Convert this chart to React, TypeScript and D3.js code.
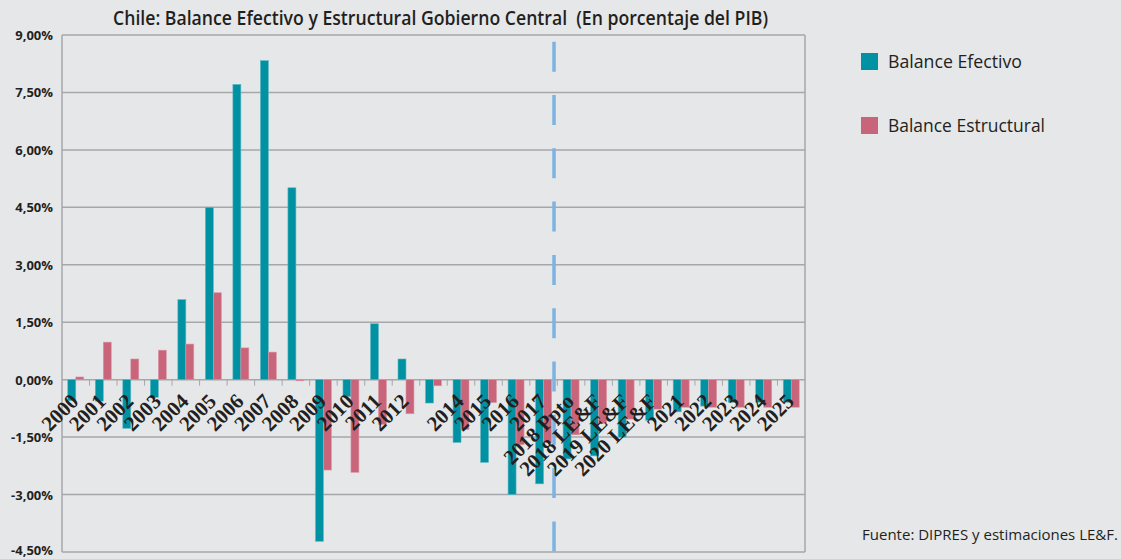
import React, { useRef, useEffect } from 'react';
import * as d3 from 'd3';

// Categories (2013 has no printed label in the original chart)
const categories = [
  '2000', '2001', '2002', '2003', '2004', '2005', '2006', '2007', '2008', '2009',
  '2010', '2011', '2012', '2013', '2014', '2015', '2016', '2017', '2018 Ppto',
  '2018 LE&F', '2019 LE&F', '2020 LE&F', '2021', '2022', '2023', '2024', '2025',
];
const tickLabels = [
  '2000', '2001', '2002', '2003', '2004', '2005', '2006', '2007', '2008', '2009',
  '2010', '2011', '2012', '', '2014', '2015', '2016', '2017', '2018 Ppto',
  '2018 LE&F', '2019 LE&F', '2020 LE&F', '2021', '2022', '2023', '2024', '2025',
];

// % of GDP
const balanceEfectivo = [
  -0.55, -0.56, -1.27, -0.46, 2.09, 4.50, 7.71, 8.33, 5.01, -4.22,
  -0.44, 1.46, 0.54, -0.61, -1.64, -2.16, -3.00, -2.72, -2.07,
  -1.99, -1.50, -1.06, -0.84, -0.69, -0.59, -0.59, -0.59,
];
const balanceEstructural = [
  0.07, 0.98, 0.54, 0.77, 0.93, 2.27, 0.83, 0.72, -0.03, -2.36,
  -2.42, -1.17, -0.89, -0.16, -1.30, -0.60, -1.70, -1.65, -1.44,
  -1.14, -1.03, -0.77, -0.72, -0.72, -0.72, -0.72, -0.72,
];

const yTicks = [9, 7.5, 6, 4.5, 3, 1.5, 0, -1.5, -3, -4.5];
const seriesNames = ['Balance Efectivo', 'Balance Estructural'];
const seriesColors = ['#0091a2', '#c8657a'];

const TITLE = 'Chile: Balance Efectivo y Estructural Gobierno Central  (En porcentaje del PIB)';
const SOURCE = 'Fuente: DIPRES y estimaciones LE&F.';

const WIDTH = 1121;
const HEIGHT = 559;
const SANS = '"Open Sans", "Noto Sans", sans-serif';

const fmt = (v: number) => d3.format('.2f')(v).replace('.', ',').replace('−', '-') + '%';

const BalanceChart: React.FC = () => {
  const svgRef = useRef<SVGSVGElement>(null);

  useEffect(() => {
    if (!svgRef.current) return;
    const svg = d3.select(svgRef.current);
    svg.selectAll('*').remove();

    const left = 62, right = 805, top = 35, bottom = 552;

    const x = d3.scaleBand<string>()
      .domain(categories)
      .range([left, right])
      .paddingInner(0.42)
      .paddingOuter(0.21);
    const xs = d3.scaleBand<number>()
      .domain([0, 1])
      .range([0, x.bandwidth()]);
    const y = d3.scaleLinear().domain([-4.5, 9]).range([bottom, top]);
    const step = x.step();

    svg.append('rect')
      .attr('width', WIDTH)
      .attr('height', HEIGHT)
      .attr('fill', '#e6e7e9');

    // gridlines
    svg.append('g')
      .selectAll('line')
      .data(yTicks)
      .join('line')
      .attr('x1', left)
      .attr('x2', right)
      .attr('y1', (d) => y(d))
      .attr('y2', (d) => y(d))
      .attr('stroke', '#a5a7aa')
      .attr('stroke-width', 1.5);

    // frame (left + right)
    svg.append('line')
      .attr('x1', left).attr('x2', left)
      .attr('y1', top).attr('y2', bottom)
      .attr('stroke', '#a5a7aa').attr('stroke-width', 1.5);
    svg.append('line')
      .attr('x1', right).attr('x2', right)
      .attr('y1', top).attr('y2', bottom)
      .attr('stroke', '#a5a7aa').attr('stroke-width', 1.5);

    // y labels
    svg.append('g')
      .selectAll('text')
      .data(yTicks)
      .join('text')
      .attr('x', 53)
      .attr('y', (d) => Math.min(y(d) + 5, HEIGHT - 4))
      .attr('text-anchor', 'end')
      .attr('font-family', SANS)
      .attr('font-weight', 700)
      .attr('font-size', 13)
      .attr('fill', '#231f20')
      .text((d) => fmt(d));

    // bars
    const series = [balanceEfectivo, balanceEstructural];
    series.forEach((vals, si) => {
      svg.append('g')
        .selectAll('rect')
        .data(vals)
        .join('rect')
        .attr('x', (_, i) => (x(categories[i]) as number) + (xs(si) as number))
        .attr('width', xs.bandwidth())
        .attr('y', (d) => y(Math.max(0, d)))
        .attr('height', (d) => Math.abs(y(d) - y(0)))
        .attr('fill', seriesColors[si])
        .attr('stroke', si === 0 ? '#5fb8c3' : '#dc98a6')
        .attr('stroke-width', 0.6);
    });

    // zero-axis tick marks at category boundaries
    svg.append('g')
      .selectAll('line')
      .data(d3.range(1, categories.length))
      .join('line')
      .attr('x1', (i) => left + i * step)
      .attr('x2', (i) => left + i * step)
      .attr('y1', y(0))
      .attr('y2', y(0) + 6)
      .attr('stroke', '#a5a7aa')
      .attr('stroke-width', 1);

    // dashed projection separator
    const sepX = (x('2018 Ppto') as number) - step * 0.33;
    svg.append('line')
      .attr('x1', sepX).attr('x2', sepX)
      .attr('y1', 41.7).attr('y2', bottom)
      .attr('stroke', '#7db2e1')
      .attr('stroke-width', 3.5)
      .attr('stroke-dasharray', '30 23.3');

    // rotated category labels
    svg.append('g')
      .selectAll('text')
      .data(tickLabels)
      .join('text')
      .attr('transform', (_, i) => {
        const cx = (x(categories[i]) as number) + x.bandwidth() / 2 + 4;
        return `translate(${cx},${y(0) + 23}) rotate(-45)`;
      })
      .attr('text-anchor', 'end')
      .attr('font-family', '"Liberation Serif", "Times New Roman", serif')
      .attr('font-weight', 700)
      .attr('font-size', 21)
      .attr('fill', '#231f20')
      .text((d) => d);

    // title
    svg.append('text')
      .attr('x', 113)
      .attr('y', 25)
      .attr('textLength', 655)
      .attr('lengthAdjust', 'spacingAndGlyphs')
      .attr('font-family', SANS)
      .attr('font-weight', 600)
      .attr('font-size', 19)
      .attr('fill', '#231f20')
      .style('white-space', 'pre')
      .text(TITLE);

    // legend
    const legendY = [53, 117];
    const legendW = [134, 157];
    seriesNames.forEach((name, i) => {
      svg.append('rect')
        .attr('x', 861).attr('y', legendY[i])
        .attr('width', 17).attr('height', 17)
        .attr('fill', seriesColors[i]);
      svg.append('text')
        .attr('x', 888).attr('y', legendY[i] + 15)
        .attr('textLength', legendW[i])
        .attr('lengthAdjust', 'spacingAndGlyphs')
        .attr('font-family', SANS)
        .attr('font-size', 18)
        .attr('fill', '#231f20')
        .text(name);
    });

    // source
    svg.append('text')
      .attr('x', 862).attr('y', 540)
      .attr('textLength', 256)
      .attr('lengthAdjust', 'spacingAndGlyphs')
      .attr('font-family', SANS)
      .attr('font-size', 15)
      .attr('fill', '#231f20')
      .text(SOURCE);
  }, []);

  return <svg ref={svgRef} width={WIDTH} height={HEIGHT} style={{ display: 'block' }} />;
};

export default function App() {
  return (
    <div style={{ position: 'fixed', top: 0, left: 0, width: WIDTH, height: HEIGHT, background: '#e6e7e9' }}>
      <BalanceChart />
    </div>
  );
}
